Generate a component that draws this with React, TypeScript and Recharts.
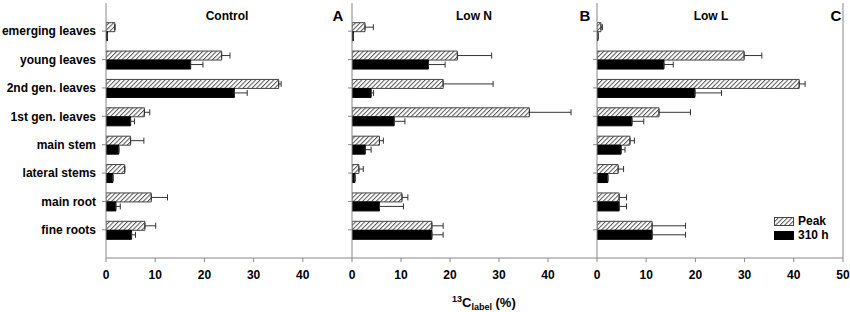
import React from 'react';
import { BarChart, Bar, XAxis, YAxis, ErrorBar, ReferenceLine, Legend } from 'recharts';

const categories = [
  'emerging leaves',
  'young leaves',
  '2nd gen. leaves',
  '1st gen. leaves',
  'main stem',
  'lateral stems',
  'main root',
  'fine roots',
];

const controlPeak = [1.8, 23.5, 35.1, 7.8, 5.0, 3.8, 9.2, 7.9];
const controlPeakErr = [0, 1.7, 0.5, 1.1, 2.7, 0, 3.3, 2.2];
const control310 = [0.3, 17.2, 26.1, 5.0, 2.6, 1.4, 2.0, 5.2];
const control310Err = [0, 2.5, 2.6, 0.8, 0, 0, 0.9, 0.8];

const lowNPeak = [2.65, 21.5, 18.6, 36.2, 5.6, 1.4, 10.2, 16.3];
const lowNPeakErr = [1.7, 7.0, 10.2, 8.5, 0.8, 0.9, 1.2, 2.3];
const lowN310 = [0.3, 15.6, 3.9, 8.6, 2.7, 0.6, 5.6, 16.3];
const lowN310Err = [0, 3.4, 0.5, 2.2, 1.2, 0, 4.9, 2.3];

const lowLPeak = [0.8, 29.9, 41.1, 12.6, 6.7, 4.3, 4.5, 11.2];
const lowLPeakErr = [0.3, 3.6, 1.2, 6.4, 0.9, 1.1, 1.5, 6.8];
const lowL310 = [0.2, 13.6, 19.9, 7.1, 4.9, 2.2, 4.5, 11.2];
const lowL310Err = [0, 1.9, 5.4, 2.4, 0.8, 0, 1.5, 6.8];

const ticksAB = [0, 10, 20, 30, 40];
const ticksC = [0, 10, 20, 30, 40, 50];

const FONT = '"Liberation Sans", Arial, sans-serif';
const AXIS = '#888';

type Row = {
  cat: string;
  peak: number;
  h310: number;
  peakErr: [number, number];
  h310Err: [number, number];
};

const build = (p: number[], pe: number[], h: number[], he: number[]): Row[] =>
  categories.map((c, i) => ({
    cat: c,
    peak: p[i],
    h310: h[i],
    peakErr: [0, pe[i]],
    h310Err: [0, he[i]],
  }));

const controlData = build(controlPeak, controlPeakErr, control310, control310Err);
const lowNData = build(lowNPeak, lowNPeakErr, lowN310, lowN310Err);
const lowLData = build(lowLPeak, lowLPeakErr, lowL310, lowL310Err);

const Hatch = ({ id }: { id: string }) => (
  <pattern id={id} patternUnits="userSpaceOnUse" width={3.2} height={3.2} patternTransform="rotate(45)">
    <rect width={3.2} height={3.2} fill="#fff" />
    <line x1={0.5} y1={0} x2={0.5} y2={3.2} stroke="#555" strokeWidth={1} />
  </pattern>
);

const EmptyTick = () => <g />;

const LegendContent = () => (
  <div style={{ fontFamily: FONT, fontWeight: 'bold', fontSize: 12, color: '#000', lineHeight: '14px' }}>
    <div style={{ display: 'flex', alignItems: 'center', height: 14 }}>
      <svg width={20} height={9} style={{ display: 'block' }}>
        <defs>
          <Hatch id="hatchLegend" />
        </defs>
        <rect x={0.5} y={0.5} width={19} height={8} fill="url(#hatchLegend)" stroke="#444" />
      </svg>
      <span style={{ marginLeft: 4 }}>Peak</span>
    </div>
    <div style={{ display: 'flex', alignItems: 'center', height: 14 }}>
      <svg width={20} height={9} style={{ display: 'block' }}>
        <rect x={0.5} y={0.5} width={19} height={8} fill="#000" stroke="#000" />
      </svg>
      <span style={{ marginLeft: 4 }}>310 h</span>
    </div>
  </div>
);

type PanelProps = {
  data: Row[];
  left: number;
  width: number;
  yWidth: number;
  showLabels: boolean;
  ticks: number[];
  rightMargin: number;
  hatchId: string;
  title: string;
  titleX: number;
  letter: string;
  letterX: number;
  last?: boolean;
  axisTitle?: boolean;
};

const Panel = (p: PanelProps) => (
  <div style={{ position: 'absolute', left: p.left, top: 0 }}>
    <BarChart
      width={p.width}
      height={312}
      data={p.data}
      layout="vertical"
      margin={{ top: 3, right: p.rightMargin, bottom: 0, left: 0 }}
      barCategoryGap="20%"
      barGap={0}
    >
      <defs>
        <Hatch id={p.hatchId} />
      </defs>
      <XAxis
        type="number"
        domain={[0, 50]}
        ticks={p.ticks}
        interval={0}
        height={54}
        tickSize={4}
        tickMargin={8}
        axisLine={{ stroke: AXIS }}
        tickLine={{ stroke: AXIS }}
        tick={{ fill: '#000', fontSize: 12, fontWeight: 'bold', fontFamily: FONT }}
        allowDataOverflow
      />
      <XAxis
        xAxisId="top"
        orientation="top"
        type="number"
        domain={[0, 50]}
        height={0}
        tick={false}
        tickLine={false}
        axisLine={{ stroke: AXIS }}
      />
      <YAxis
        type="category"
        dataKey="cat"
        width={p.yWidth}
        padding={{ top: 14, bottom: 14 }}
        tickSize={4}
        tickMargin={6}
        interval={0}
        axisLine={{ stroke: AXIS }}
        tickLine={{ stroke: AXIS }}
        tick={p.showLabels ? { fill: '#000', fontSize: 12, fontWeight: 'bold', fontFamily: FONT } : EmptyTick}
      />
      {p.last && <ReferenceLine x={50} stroke={AXIS} />}
      <Bar dataKey="peak" name="Peak" fill={`url(#${p.hatchId})`} stroke="#444" strokeWidth={1} isAnimationActive={false}>
        <ErrorBar dataKey="peakErr" direction="x" width={3} stroke="#333" strokeWidth={1} />
      </Bar>
      <Bar dataKey="h310" name="310 h" fill="#000" stroke="#000" strokeWidth={1} isAnimationActive={false}>
        <ErrorBar dataKey="h310Err" direction="x" width={3} stroke="#333" strokeWidth={1} />
      </Bar>
      <text x={p.titleX} y={19.5} textAnchor="middle" fontFamily={FONT} fontWeight="bold" fontSize={12} fill="#000">
        {p.title}
      </text>
      <text x={p.letterX} y={20.5} textAnchor="middle" fontFamily={FONT} fontWeight="bold" fontSize={15} fill="#000">
        {p.letter}
      </text>
      {p.axisTitle && (
        <text x={106} y={307} fontFamily={FONT} fontWeight="bold" fontSize={13} fill="#000">
          <tspan fontSize={9} dy={-5}>13</tspan>
          <tspan fontSize={13} dy={5}>C</tspan>
          <tspan fontSize={9} dy={3}>label</tspan>
          <tspan fontSize={13} dy={-3}> (%)</tspan>
        </text>
      )}
      {p.last && (
        <Legend
          layout="horizontal"
          verticalAlign="middle"
          align="center"
          content={LegendContent}
          wrapperStyle={{ left: 183, top: 214, width: 70, height: 28 }}
        />
      )}
    </BarChart>
  </div>
);

export default function App() {
  return (
    <div
      style={{
        position: 'absolute',
        left: 0,
        top: 0,
        width: 850,
        height: 312,
        background: '#fff',
        overflow: 'hidden',
        fontFamily: FONT,
      }}
    >
      <Panel
        data={controlData}
        left={0}
        width={352}
        yWidth={106}
        showLabels
        ticks={ticksAB}
        rightMargin={0}
        hatchId="hatchA"
        title="Control"
        titleX={227}
        letter="A"
        letterX={338}
      />
      <Panel
        data={lowNData}
        left={346}
        width={251}
        yWidth={6}
        showLabels={false}
        ticks={ticksAB}
        rightMargin={0}
        hatchId="hatchB"
        title="Low N"
        titleX={128}
        letter="B"
        letterX={239}
        axisTitle
      />
      <Panel
        data={lowLData}
        left={591}
        width={259}
        yWidth={6}
        showLabels={false}
        ticks={ticksC}
        rightMargin={7}
        hatchId="hatchC"
        title="Low L"
        titleX={120}
        letter="C"
        letterX={245}
        last
      />
    </div>
  );
}
